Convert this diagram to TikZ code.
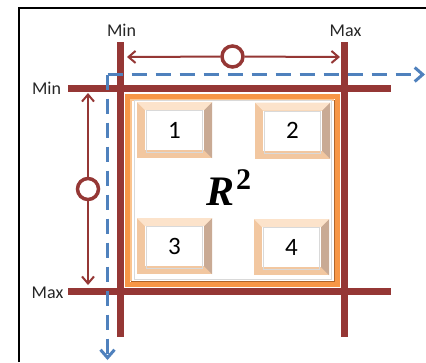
\documentclass[tikz,border=0pt]{standalone}
\usepackage{fontspec}
\setmainfont{Carlito}
\newfontfamily\rfont{Liberation Serif}
\usetikzlibrary{arrows.meta}
\definecolor{axred}{HTML}{953735}
\definecolor{axblue}{HTML}{4F81BD}
\definecolor{frorange}{HTML}{F79646}
\definecolor{frbrown}{HTML}{B0642A}
\definecolor{frlight}{HTML}{FBC48E}
\definecolor{bxpeach}{HTML}{F2C7A0}
\definecolor{bxlight}{HTML}{FCE3CB}
\definecolor{bxdark}{HTML}{C9AA94}
\definecolor{ingray}{HTML}{D9D9D9}
\newcommand{\bevbox}[3]{%
  \node[bevel] (#1) at (#2) {#3};
  \fill[bxdark] (#1.north east) -- (#1.south east) -- ([shift={(-8,-8)}]#1.south east) -- ([shift={(-8,8)}]#1.north east) -- cycle;
  \fill[bxlight] (#1.north west) -- (#1.north east) -- ([shift={(-8,8)}]#1.north east) -- ([shift={(8,8)}]#1.north west) -- cycle;
  \draw[ingray,line width=0.8] ([shift={(9.5,8.5)}]#1.north west) rectangle ([shift={(-9.5,-5.5)}]#1.south east);
}
\begin{document}
\begin{tikzpicture}[x=1pt,y=-1pt,
  axis/.style={axred,line width=6.5},
  meas/.style={axred,line width=2,-{Straight Barb[length=7,width=12]}},
  ring/.style={circle,draw=axred,line width=3.5,fill=white,minimum size=21,inner sep=0},
  guide/.style={axblue,line width=3,dash pattern=on 15 off 9,-{Straight Barb[length=8,width=14]}},
  lab/.style={inner sep=0,font=\fontsize{18}{20}\selectfont,text=black!85},
  bevel/.style={draw=bxpeach,line width=8,fill=white,minimum width=67,minimum height=48,inner sep=0,outer sep=4,font=\fontsize{25}{28}\selectfont},
  frame/.style={draw=frorange,line width=5,minimum width=210,minimum height=188,inner sep=0,outer sep=2.5}]
\useasboundingbox (0,0) rectangle (426,362);
\fill[white] (0,0) rectangle (426,362);
\draw[black,line width=2] (19,362) -- (19,8) -- (426,8);
% frame of the space
\node[frame] (space) at (232.5,190.5) {};
\draw[frbrown,line width=1.5] ([shift={(-5.75,5.75)}]space.north east) -- ([shift={(-5.75,-5.75)}]space.south east) -- ([shift={(5.75,-5.75)}]space.south west);
\draw[frlight,line width=1.5] ([shift={(5.75,-5.75)}]space.south west) -- ([shift={(5.75,5.75)}]space.north west) -- ([shift={(-5.75,5.75)}]space.north east);
\draw[ingray,line width=1] (134,100.5) rectangle (331,279);
% boxes
\bevbox{b1}{174.5,130}{1}
\bevbox{b2}{292.5,130.5}{2}
\bevbox{b3}{174.5,246}{3}
\bevbox{b4}{291.5,247}{4}
\node[anchor=base west,inner sep=0] (rsq) at (206,205) {\rfont\bfseries\itshape\fontsize{42}{44}\selectfont R\hspace{2pt}\raisebox{16pt}{\upshape\fontsize{30}{32}\selectfont 2}};
% axes
\coordinate (vminT) at (120.5,42);  \coordinate (vminB) at (120.5,337);
\coordinate (vmaxT) at (344.5,42);  \coordinate (vmaxB) at (344.5,337);
\coordinate (hminL) at (68,88.5);   \coordinate (hminR) at (391,88.5);
\coordinate (hmaxL) at (68,291.5);  \coordinate (hmaxR) at (391,291.5);
\draw[axis] (vminT) -- (vminB);
\draw[axis] (vmaxT) -- (vmaxB);
\draw[axis] (hminL) -- (hminR);
\draw[axis] (hmaxL) -- (hmaxR);
% measurement arrows
\node[ring] (ch) at (232.5,56.5) {};
\node[ring] (cv) at (88,189) {};
\coordinate (tipL) at (127,57);  \coordinate (tipR) at (340,57);
\coordinate (tipU) at (88,93);   \coordinate (tipD) at (88,285);
\draw[meas] (ch) -- (tipL);
\draw[meas] (ch) -- (tipR);
\draw[meas] (cv) -- (tipU);
\draw[meas] (cv) -- (tipD);
% dashed guides
\coordinate (gc) at (107.5,74.5);
\coordinate (gx) at (425,74.5);
\coordinate (gy) at (107.5,360);
\draw[guide] (gc) -- (gx);
\draw[guide] (gc) -- (gy);
% labels
\node[lab] (lminx) at (121.5,30.5) {Min};
\node[lab] (lmaxx) at (345.5,31) {Max};
\node[lab] (lminy) at (46.5,88) {Min};
\node[lab] (lmaxy) at (47.5,293) {Max};
\end{tikzpicture}
\end{document}
